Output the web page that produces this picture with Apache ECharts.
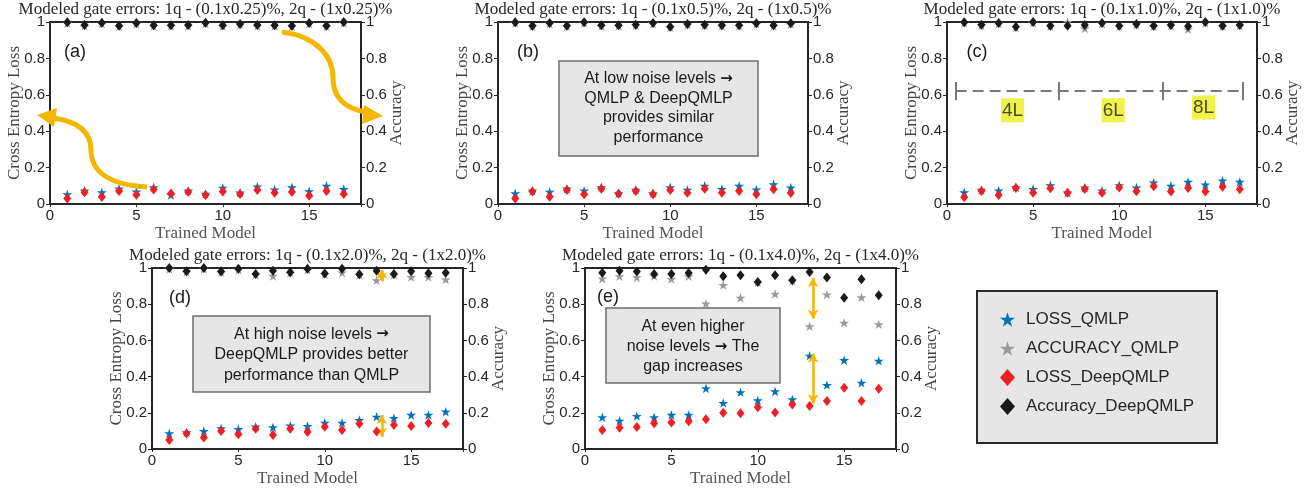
<!DOCTYPE html>
<html><head><meta charset="utf-8">
<script src="https://cdn.jsdelivr.net/npm/echarts@6/dist/echarts.min.js"></script>
<style>html,body{margin:0;padding:0;background:#fff}#c{width:1310px;height:491px}</style>
</head><body><div id="c"></div>
<script>
// ---------------- DATA ----------------
const trainedModels = [1,2,3,4,5,6,7,8,9,10,11,12,13,14,15,16,17];
const seriesNames = ['LOSS_QMLP','ACCURACY_QMLP','LOSS_DeepQMLP','Accuracy_DeepQMLP'];
const panelLabels = ['(a)','(b)','(c)','(d)','(e)'];
const panelTitles = [
  'Modeled gate errors: 1q - (0.1x0.25)%, 2q - (1x0.25)%',
  'Modeled gate errors: 1q - (0.1x0.5)%, 2q - (1x0.5)%',
  'Modeled gate errors: 1q - (0.1x1.0)%, 2q - (1x1.0)%',
  'Modeled gate errors: 1q - (0.1x2.0)%, 2q - (1x2.0)%',
  'Modeled gate errors: 1q - (0.1x4.0)%, 2q - (1x4.0)%'
];
const xTicks = [0,5,10,15];
const yTicks = [0,0.2,0.4,0.6,0.8,1];

// panel (a)
const lossQMLP_a = [0.053,0.073,0.064,0.084,0.068,0.092,0.050,0.073,0.055,0.088,0.062,0.095,0.079,0.092,0.070,0.100,0.082];
const accQMLP_a  = [0.993,0.978,0.990,0.975,0.990,0.977,0.978,0.978,0.991,0.977,0.985,0.978,0.978,0.975,0.990,0.975,0.995];
const lossDeep_a = [0.030,0.064,0.038,0.071,0.051,0.079,0.058,0.066,0.049,0.068,0.055,0.077,0.062,0.066,0.046,0.071,0.055];
const accDeep_a  = [0.998,0.983,0.996,0.980,0.995,0.982,0.982,0.983,0.996,0.982,0.989,0.983,0.982,0.980,0.995,0.980,1.000];
// panel (b)
const lossQMLP_b = [0.059,0.073,0.066,0.084,0.073,0.092,0.059,0.077,0.059,0.092,0.077,0.100,0.082,0.100,0.079,0.108,0.090];
const accQMLP_b  = [0.994,0.976,0.991,0.976,0.994,0.978,0.978,0.981,0.991,0.970,0.985,0.981,0.978,0.978,0.989,0.978,0.989];
const lossDeep_b = [0.030,0.068,0.040,0.077,0.053,0.084,0.057,0.071,0.053,0.077,0.062,0.084,0.062,0.071,0.053,0.081,0.060];
const accDeep_b  = [0.998,0.980,0.995,0.980,0.998,0.982,0.982,0.985,0.995,0.974,0.989,0.985,0.982,0.982,0.993,0.982,0.993];
// panel (c)
const lossQMLP_c = [0.064,0.077,0.073,0.092,0.082,0.103,0.062,0.090,0.073,0.103,0.090,0.117,0.100,0.121,0.106,0.128,0.121];
const accQMLP_c  = [0.994,0.981,0.991,0.970,0.996,0.976,1.000,0.965,0.991,0.976,0.985,0.976,0.979,0.960,0.996,0.976,0.979];
const lossDeep_c = [0.037,0.071,0.049,0.088,0.062,0.086,0.062,0.082,0.062,0.090,0.070,0.097,0.068,0.088,0.068,0.095,0.081];
const accDeep_c  = [0.998,0.985,0.995,0.974,1.000,0.980,0.980,0.983,0.995,0.980,0.989,0.980,0.983,0.976,1.000,0.980,0.983];
// panel (d)
const lossQMLP_d = [0.086,0.092,0.099,0.114,0.110,0.123,0.119,0.129,0.127,0.145,0.145,0.160,0.178,0.171,0.188,0.188,0.206];
const accQMLP_d  = [0.995,0.978,0.995,0.976,0.990,0.963,0.956,0.972,0.990,0.966,0.974,0.961,0.932,0.963,0.950,0.950,0.936];
const lossDeep_d = [0.050,0.086,0.064,0.099,0.081,0.112,0.077,0.112,0.094,0.123,0.105,0.140,0.096,0.132,0.127,0.143,0.140];
const accDeep_d  = [1.000,0.982,1.000,0.980,0.996,0.967,0.985,0.976,0.996,0.969,0.996,0.965,0.985,0.967,0.982,0.971,0.974];
// panel (e)
const lossQMLP_e = [0.175,0.156,0.182,0.175,0.188,0.188,0.335,0.254,0.313,0.268,0.318,0.274,0.515,0.353,0.491,0.366,0.487];
const accQMLP_e  = [0.941,0.954,0.948,0.956,0.939,0.954,0.803,0.906,0.835,0.920,0.857,0.930,0.678,0.853,0.697,0.838,0.689];
const lossDeep_e = [0.105,0.118,0.121,0.142,0.147,0.153,0.164,0.200,0.197,0.230,0.202,0.246,0.237,0.265,0.338,0.265,0.333];
const accDeep_e  = [0.974,0.985,0.980,0.967,0.967,0.972,0.990,0.954,0.960,0.923,0.960,0.932,0.978,0.947,0.835,0.938,0.849];

const panelData = [
  [lossQMLP_a, accQMLP_a, lossDeep_a, accDeep_a],
  [lossQMLP_b, accQMLP_b, lossDeep_b, accDeep_b],
  [lossQMLP_c, accQMLP_c, lossDeep_c, accDeep_c],
  [lossQMLP_d, accQMLP_d, lossDeep_d, accDeep_d],
  [lossQMLP_e, accQMLP_e, lossDeep_e, accDeep_e]
];

// annotation content
const layerLabels = ['4L','6L','8L'];
const layerBounds = [0.5, 6.5, 12.5, 17.2];
const layerLevel = 0.62;
const noteB = 'At low noise levels {ar|\u2192}\nQMLP & DeepQMLP\nprovides similar\nperformance';
const noteD = 'At high noise levels {ar|\u2192}\nDeepQMLP provides better\nperformance than QMLP';
const noteE = 'At even higher\nnoise levels {ar|\u2192} The\ngap increases';
const gapArrowsD = [[13.3, 0.99, 0.925], [13.3, 0.188, 0.068]];
const gapArrowsE = [[13.2, 0.945, 0.72], [13.2, 0.527, 0.252]];

// ---------------- STYLE ----------------
const STAR = 'path://M100,0L122.45,69.1L195.11,69.1L136.33,111.8L158.78,180.9L100,138.2L41.22,180.9L63.67,111.8L4.89,69.1L77.55,69.1Z';
const colors = ['#0072BD', '#9a9a9a', '#ee1f25', '#1a1a1a'];
const symbols = [STAR, STAR, 'diamond', 'diamond'];
const symSizes = [10, 10, [8, 10], [8, 10]];
const SERIF = 'Liberation Serif';
const SANS = 'Liberation Sans';
const YEL = '#f6b600';

const grids = [
  {left: 50,  top: 22,  width: 311, height: 182},
  {left: 498, top: 22,  width: 310, height: 182},
  {left: 947, top: 22,  width: 310, height: 182},
  {left: 152, top: 268, width: 311, height: 181},
  {left: 585, top: 268, width: 311, height: 181}
];

const xAxes = [], yAxes = [], series = [], titles = [];
grids.forEach((g, i) => {
  g.show = true; g.borderColor = '#262626'; g.borderWidth = 2; g.containLabel = false;
  xAxes.push({
    gridIndex: i, type: 'value', min: 0, max: 18, interval: 5,
    name: 'Trained Model', nameLocation: 'middle', nameGap: 21, nameMoveOverlap: false,
    nameTextStyle: {fontFamily: SERIF, fontSize: 17, color: '#555'},
    axisLine: {lineStyle: {color: '#262626', width: 2}},
    axisTick: {inside: false, length: 3, lineStyle: {color: '#262626'}},
    axisLabel: {fontFamily: SANS, fontSize: 15, color: '#262626', margin: 4,
      formatter: v => xTicks.includes(v) ? String(v) : ''},
    splitLine: {show: false}
  });
  ['left', 'right'].forEach((pos, k) => {
    yAxes.push({
      gridIndex: i, type: 'value', position: pos, min: 0, max: 1, interval: 0.2,
      name: k === 0 ? 'Cross Entropy Loss' : 'Accuracy', nameLocation: 'middle',
      nameGap: k === 0 ? 26.5 : 27, nameRotate: 90, nameMoveOverlap: false,
      nameTextStyle: {fontFamily: SERIF, fontSize: 17, color: '#444'},
      axisLine: {show: true, lineStyle: {color: '#262626', width: 2}},
      axisTick: {show: true, inside: false, length: 4, lineStyle: {color: '#262626'}},
      axisLabel: {fontFamily: SANS, fontSize: 15, color: '#262626', margin: 5,
        formatter: v => { const r = Math.round(v * 10) / 10; return yTicks.includes(r) ? String(r) : ''; }},
      splitLine: {show: false}
    });
  });
  titles.push({
    text: panelTitles[i], left: g.left + g.width / 2, top: g.top - 21, textAlign: 'center', padding: 0,
    textStyle: {fontFamily: SERIF, fontSize: 17, fontWeight: 'normal', color: '#262626'}
  });
  seriesNames.forEach((nm, s) => {
    series.push({
      type: 'scatter', name: nm, xAxisIndex: i, yAxisIndex: 2 * i + (s % 2),
      data: trainedModels.map((x, k) => [x, panelData[i][s][k]]),
      symbol: symbols[s], symbolSize: symSizes[s], symbolKeepAspect: true,
      itemStyle: {color: colors[s], opacity: 1}, z: 3 + s, silent: true
    });
  });
});

// layer brackets in (c)
const capLines = layerBounds.map(b => [{coord: [b, layerLevel - 0.05]}, {coord: [b, layerLevel + 0.05]}]);
series.push({
  type: 'line', xAxisIndex: 2, yAxisIndex: 4, data: [], silent: true,
  markLine: {symbol: 'none', silent: true, label: {show: false}, animation: false,
    lineStyle: {color: '#7a7a7a', width: 2, type: [11, 6]},
    data: [[{coord: [layerBounds[0], layerLevel]}, {coord: [layerBounds[3], layerLevel]}]]
  }
});
series.push({
  type: 'line', xAxisIndex: 2, yAxisIndex: 4, data: [], silent: true,
  markLine: {symbol: 'none', silent: true, label: {show: false}, animation: false,
    lineStyle: {color: '#7a7a7a', width: 2, type: 'solid'}, data: capLines}
});
const layerCenters = [3.8, 9.65, 14.9];
const layerY = [0.515, 0.515, 0.53];
series.push({
  type: 'scatter', xAxisIndex: 2, yAxisIndex: 4, symbolSize: 0, silent: true,
  data: layerLabels.map((t, k) => ({value: [layerCenters[k], layerY[k]], name: t})),
  label: {show: true, position: 'inside', formatter: p => p.name, fontFamily: SANS, fontSize: 19,
    color: '#222', backgroundColor: '#eded1f', padding: [3, 1, 2, 1]}
});
// gap arrows
function gapSeries(grid, arrs) {
  return {
    type: 'line', xAxisIndex: grid, yAxisIndex: 2 * grid, data: [], silent: true,
    markLine: {symbol: ['arrow', 'arrow'], symbolSize: [8, 9], silent: true, label: {show: false}, animation: false,
      lineStyle: {color: YEL, width: 2.5, type: 'solid'},
      data: arrs.map(a => [{coord: [a[0], a[1]]}, {coord: [a[0], a[2]]}])}
  };
}
series.push(gapSeries(3, gapArrowsD));
series.push(gapSeries(4, gapArrowsE));

// ---------------- GRAPHIC ----------------
const boxStyle = {fill: '#e6e6e6', stroke: '#6e6e6e', lineWidth: 1.5};
const noteText = (x, y, txt, lh) => ({type: 'text', x, y, z: 20,
  style: {text: txt, fill: '#1a1a1a', fontFamily: SANS, fontSize: 16, align: 'center', verticalAlign: 'middle', lineHeight: lh,
    rich: {ar: {fontFamily: 'DejaVu Sans', fontSize: 15, fontWeight: 'bold', fill: '#1a1a1a', lineHeight: lh}}}});
const graphic = [
  // panel labels
  ...panelLabels.map((t, i) => ({type: 'text', z: 20,
    x: [75, 528, 977, 180, 608][i], y: [52, 52, 52, 298, 297][i],
    style: {text: t, fill: '#1a1a1a', font: '18px "Liberation Sans"', align: 'center', verticalAlign: 'middle'}})),
  // note boxes
  {type: 'rect', z: 19, shape: {x: 559, y: 61, width: 199, height: 95}, style: boxStyle},
  noteText(658.5, 108, noteB, 19.5),
  {type: 'rect', z: 19, shape: {x: 193, y: 316, width: 237, height: 76}, style: boxStyle},
  noteText(311.5, 355, noteD, 20.5),
  {type: 'rect', z: 19, shape: {x: 606, y: 308, width: 174, height: 75}, style: boxStyle},
  noteText(693, 347, noteE, 20),
  // legend box
  {type: 'rect', z: 1, shape: {x: 977, y: 291, width: 240, height: 152},
    style: {fill: '#e6e6e6', stroke: '#2a2a2a', lineWidth: 2}},
  // yellow curved arrows in (a)
  {type: 'bezierCurve', z: 20, shape: {x1: 147, y1: 187, cpx1: 110, cpy1: 185, cpx2: 91, cpy2: 172, x2: 91, y2: 150},
    style: {stroke: YEL, lineWidth: 5, fill: null}},
  {type: 'bezierCurve', z: 20, shape: {x1: 91, y1: 150, cpx1: 91, cpy1: 130, cpx2: 75, cpy2: 121, x2: 53, y2: 118},
    style: {stroke: YEL, lineWidth: 5, fill: null}},
  {type: 'polygon', z: 20, shape: {points: [[37, 115], [57, 108], [54, 127]]}, style: {fill: YEL}},
  {type: 'bezierCurve', z: 20, shape: {x1: 282, y1: 32, cpx1: 315, cpy1: 36, cpx2: 333, cpy2: 55, x2: 333, y2: 78},
    style: {stroke: YEL, lineWidth: 5, fill: null}},
  {type: 'bezierCurve', z: 20, shape: {x1: 333, y1: 78, cpx1: 333, cpy1: 100, cpx2: 348, cpy2: 109, x2: 366, y2: 112},
    style: {stroke: YEL, lineWidth: 5, fill: null}},
  {type: 'polygon', z: 20, shape: {points: [[383, 116], [364, 105], [362, 124]]}, style: {fill: YEL}}
];

const chart = echarts.init(document.getElementById('c'), null, {renderer: 'canvas'});
chart.setOption({
  animation: false,
  backgroundColor: '#ffffff',
  title: titles,
  grid: grids,
  xAxis: xAxes,
  yAxis: yAxes,
  legend: {
    orient: 'vertical', left: 995, top: 306, itemGap: 12, itemWidth: 15, itemHeight: 17, z: 10,
    selectedMode: false, symbolKeepAspect: true,
    textStyle: {fontFamily: SANS, fontSize: 17, color: '#262626', padding: [0, 0, 0, 6]},
    data: seriesNames.map((n, s) => ({name: n, icon: symbols[s]}))
  },
  graphic: graphic,
  series: series
});
</script></body></html>
